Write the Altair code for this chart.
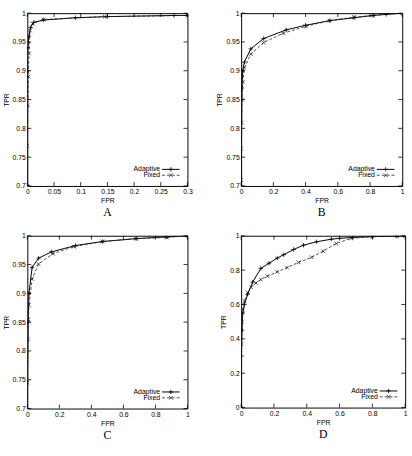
import altair as alt
import pandas as pd

# ---------------- data ----------------
A_ad_fpr = [0.0, 0.0, 0.001, 0.003, 0.006, 0.012, 0.03, 0.09, 0.15, 0.275, 0.3]
A_ad_tpr = [0.70, 0.90, 0.94, 0.96, 0.975, 0.984, 0.988, 0.992, 0.994, 0.996, 0.996]
A_fx_fpr = [0.0, 0.0, 0.001, 0.002, 0.003, 0.005, 0.01, 0.03, 0.145, 0.3]
A_fx_tpr = [0.70, 0.77, 0.84, 0.89, 0.93, 0.97, 0.982, 0.989, 0.994, 0.996]

B_ad_fpr = [0.0, 0.005, 0.01, 0.02, 0.06, 0.14, 0.28, 0.40, 0.55, 0.70, 0.82, 0.90, 1.0]
B_ad_tpr = [0.70, 0.87, 0.90, 0.915, 0.938, 0.956, 0.971, 0.979, 0.987, 0.992, 0.996, 0.998, 1.0]
B_fx_fpr = [0.0, 0.0, 0.003, 0.005, 0.01, 0.02, 0.06, 0.14, 0.26, 0.40, 0.55, 0.70, 0.82, 1.0]
B_fx_tpr = [0.71, 0.765, 0.81, 0.85, 0.88, 0.905, 0.929, 0.949, 0.965, 0.977, 0.987, 0.993, 0.996, 1.0]

C_ad_fpr = [0.0, 0.005, 0.01, 0.03, 0.07, 0.15, 0.30, 0.47, 0.68, 0.87, 1.0]
C_ad_tpr = [0.70, 0.85, 0.90, 0.945, 0.961, 0.972, 0.983, 0.990, 0.995, 0.998, 1.0]
C_fx_fpr = [0.0, 0.003, 0.007, 0.01, 0.03, 0.07, 0.16, 0.29, 0.47, 0.68, 0.87, 1.0]
C_fx_tpr = [0.745, 0.82, 0.855, 0.88, 0.925, 0.951, 0.969, 0.981, 0.990, 0.995, 0.997, 1.0]

D_ad_fpr = [0.0, 0.002, 0.005, 0.01, 0.02, 0.04, 0.07, 0.12, 0.17, 0.22, 0.26, 0.32, 0.38,
            0.46, 0.55, 0.60, 0.68, 0.80, 0.95, 1.0]
D_ad_tpr = [0.0, 0.30, 0.45, 0.55, 0.60, 0.66, 0.73, 0.81, 0.84, 0.87, 0.89, 0.92, 0.945,
            0.965, 0.98, 0.985, 0.99, 0.995, 0.998, 1.0]
D_fx_fpr = [0.0, 0.002, 0.005, 0.01, 0.02, 0.04, 0.06, 0.09, 0.12, 0.16, 0.22, 0.28, 0.35,
            0.43, 0.50, 0.58, 0.67, 0.80, 0.95, 1.0]
D_fx_tpr = [0.0, 0.37, 0.50, 0.57, 0.62, 0.67, 0.70, 0.725, 0.745, 0.765, 0.79, 0.815, 0.845,
            0.875, 0.91, 0.955, 0.985, 0.995, 0.998, 1.0]

series_names = ["Adaptive", "Fixed"]
panel_letters = ["A", "B", "C", "D"]

xticks_A = [0, 0.05, 0.1, 0.15, 0.2, 0.25, 0.3]
xticks_unit = [0, 0.2, 0.4, 0.6, 0.8, 1]
yticks_hi = [0.7, 0.75, 0.8, 0.85, 0.9, 0.95, 1]
yticks_unit = [0, 0.2, 0.4, 0.6, 0.8, 1]

PLUS = "M-1,0L1,0M0,-1L0,1"
XSHAPE = "M-1,-1L1,1M-1,1L1,-1"
FONT = "Liberation Sans"
TICK = 4


def panel(letter, ad, fx, xdom, ydom, xticks, yticks, W, H):
    xs = alt.Scale(domain=xdom, nice=False, zero=False)
    ys = alt.Scale(domain=ydom, nice=False, zero=False)
    ad_df = pd.DataFrame({"fpr": ad[0], "tpr": ad[1]})
    fx_df = pd.DataFrame({"fpr": fx[0], "tpr": fx[1]})
    X = alt.X("fpr:Q", scale=xs,
              axis=alt.Axis(values=xticks, format="~g", ticks=False, domain=False, grid=False,
                            labelOverlap=False, labelFlush=False, labelColor="black",
                            labelFont=FONT, labelFontSize=7, labelPadding=2,
                            title="FPR", titleFont=FONT, titleFontSize=7, titleColor="black",
                            titleFontWeight="normal", titlePadding=2))
    Y = alt.Y("tpr:Q", scale=ys,
              axis=alt.Axis(values=yticks, format="~g", ticks=False, domain=False, grid=False,
                            labelOverlap=False, labelFlush=False, labelColor="black",
                            labelFont=FONT, labelFontSize=7, labelPadding=2,
                            title="TPR", titleFont=FONT, titleFontSize=7, titleColor="black",
                            titleFontWeight="normal", titlePadding=3))
    fx_line = alt.Chart(fx_df).mark_line(color="#222", strokeWidth=0.8,
                                         strokeDash=[3, 2], clip=True).encode(x=X, y=Y)
    fx_pts = alt.Chart(fx_df).mark_point(shape=XSHAPE, size=14, filled=False,
                                         color="#222", strokeWidth=0.8, opacity=1,
                                         clip=True).encode(x=X, y=Y)
    ad_line = alt.Chart(ad_df).mark_line(color="black", strokeWidth=1,
                                         clip=True).encode(x=X, y=Y)
    ad_pts = alt.Chart(ad_df).mark_point(shape=PLUS, size=20, filled=False,
                                         color="black", strokeWidth=0.8, opacity=1,
                                         clip=True).encode(x=X, y=Y)
    # inward mirrored ticks (gnuplot style)
    xt = pd.DataFrame({"fpr": xticks})
    yt = pd.DataFrame({"tpr": yticks})
    tb = alt.Chart(xt).mark_rule(color="black", strokeWidth=0.8).encode(
        x=X, y=alt.value(H), y2=alt.value(H - TICK))
    tt = alt.Chart(xt).mark_rule(color="black", strokeWidth=0.8).encode(
        x=X, y=alt.value(0), y2=alt.value(TICK))
    tl = alt.Chart(yt).mark_rule(color="black", strokeWidth=0.8).encode(
        y=Y, x=alt.value(0), x2=alt.value(TICK))
    tr = alt.Chart(yt).mark_rule(color="black", strokeWidth=0.8).encode(
        y=Y, x=alt.value(W), x2=alt.value(W - TICK))
    # key
    ly1, ly2 = H - 17, H - 11
    leg_df = pd.DataFrame({"name": series_names})
    t1 = alt.Chart(leg_df.iloc[[0]]).mark_text(align="right", baseline="middle", font=FONT,
                                               fontSize=7).encode(
        text="name:N", x=alt.value(W - 28), y=alt.value(ly1), color=alt.value("black"))
    t2 = alt.Chart(leg_df.iloc[[1]]).mark_text(align="right", baseline="middle", font=FONT,
                                               fontSize=7).encode(
        text="name:N", x=alt.value(W - 28), y=alt.value(ly2), color=alt.value("black"))
    l1 = alt.Chart(leg_df.iloc[[0]]).mark_rule(color="black", strokeWidth=1).encode(
        x=alt.value(W - 26), x2=alt.value(W - 8), y=alt.value(ly1))
    l2 = alt.Chart(leg_df.iloc[[1]]).mark_rule(color="#222", strokeWidth=0.8,
                                               strokeDash=[3, 2]).encode(
        x=alt.value(W - 26), x2=alt.value(W - 8), y=alt.value(ly2))
    m1 = alt.Chart(leg_df.iloc[[0]]).mark_point(shape=PLUS, size=20, filled=False,
                                                strokeWidth=0.8, opacity=1).encode(
        x=alt.value(W - 17), y=alt.value(ly1), color=alt.value("black"))
    m2 = alt.Chart(leg_df.iloc[[1]]).mark_point(shape=XSHAPE, size=14, filled=False,
                                                strokeWidth=0.8, opacity=1).encode(
        x=alt.value(W - 17), y=alt.value(ly2), color=alt.value("#222"))
    return alt.layer(ad_line, fx_line, fx_pts, ad_pts, tb, tt, tl, tr,
                     t1, t2, l1, l2, m1, m2).properties(
        width=W, height=H,
        title=alt.TitleParams(letter, orient="bottom", font="Liberation Serif",
                              fontSize=12, fontWeight="normal", color="black", offset=4))


pA = panel("A", (A_ad_fpr, A_ad_tpr), (A_fx_fpr, A_fx_tpr), [0, 0.3], [0.7, 1],
           xticks_A, yticks_hi, 164, 177)
pB = panel("B", (B_ad_fpr, B_ad_tpr), (B_fx_fpr, B_fx_tpr), [0, 1], [0.7, 1],
           xticks_unit, yticks_hi, 165, 177)
pC = panel("C", (C_ad_fpr, C_ad_tpr), (C_fx_fpr, C_fx_tpr), [0, 1], [0.7, 1],
           xticks_unit, yticks_hi, 164, 177)
pD = panel("D", (D_ad_fpr, D_ad_tpr), (D_fx_fpr, D_fx_tpr), [0, 1], [0, 1],
           xticks_unit, yticks_unit, 168, 176)

chart = alt.concat(pA, pB, pC, pD, columns=2, spacing={"row": 12, "column": 22}).properties(
    padding={"left": 1, "top": 3, "right": 4, "bottom": 4},
    background="white",
).configure_view(stroke="black", strokeWidth=1)

chart.save("out.html", embed_options={"renderer": "svg", "actions": False})
